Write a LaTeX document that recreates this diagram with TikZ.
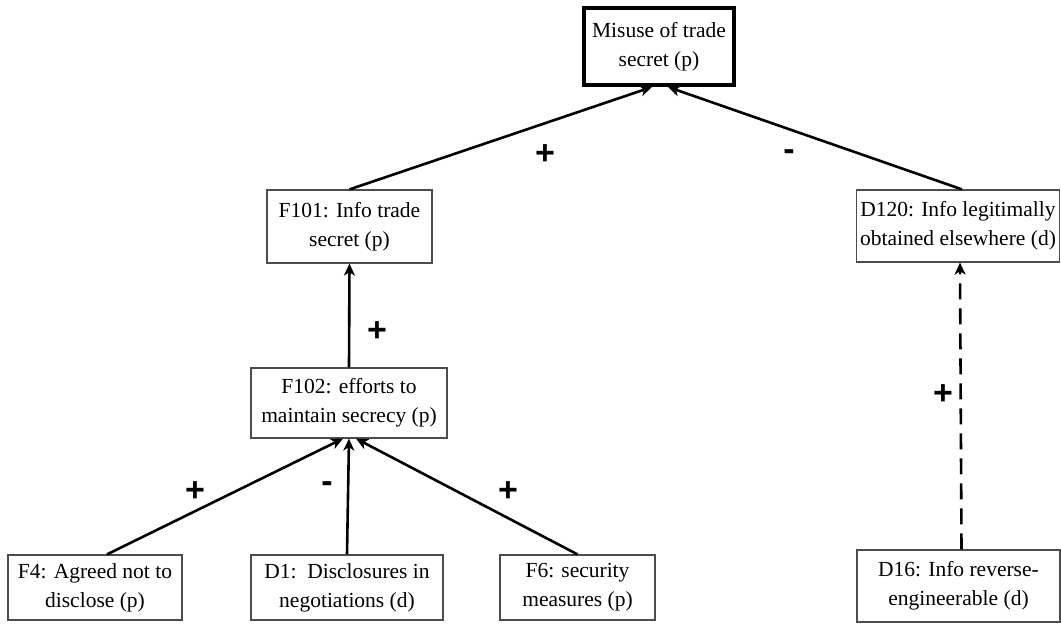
\documentclass[tikz,border=0pt]{standalone}
\usepackage{fontspec}
\setmainfont{Liberation Serif}
\newfontfamily\lblfont{Liberation Sans}
\usetikzlibrary{arrows.meta}
\begin{document}
\begin{tikzpicture}[x=1pt,y=-1pt,
  box/.style={draw=black!70, line width=1.2pt, fill=white, align=center, inner sep=0pt,
    font=\fontsize{21.5}{29}\selectfont},
  topbox/.style={box, draw=black, line width=4pt},
  conn/.style={line width=2.6pt, -{Stealth[length=12pt,width=11pt,inset=3.5pt]}},
  dconn/.style={conn, dash pattern=on 16pt off 9pt},
  lbl/.style={font=\lblfont\bfseries\fontsize{34}{34}\selectfont, inner sep=0pt}]
\useasboundingbox (0,0) rectangle (1061,627);

\node[topbox, minimum width=150pt, minimum height=77pt] (top) at (659,46.5) {Misuse of trade\\secret (p)};
\node[box, minimum width=165pt, minimum height=73pt] (f101) at (349.5,226.5) {F101: Info trade\\secret (p)};
\node[box, minimum width=203pt, minimum height=72pt] (d120) at (958,226) {D120: Info legitimally\\obtained elsewhere (d)};
\node[box, minimum width=196pt, minimum height=70pt] (f102) at (349,403) {F102: efforts to\\maintain secrecy (p)};
\node[box, minimum width=174pt, minimum height=65pt] (f4) at (95,587.5) {F4: Agreed not to\\disclose (p)};
\node[box, minimum width=192pt, minimum height=65pt] (d1) at (347,587.5) {D1:\ \ Disclosures in\\negotiations (d)};
\node[box, minimum width=155pt, minimum height=65pt] (f6) at (577.5,587.5) {F6: security\\measures (p)};
\node[box, minimum width=203pt, minimum height=72pt] (d16) at (958.5,586) {D16: Info reverse-\\engineerable (d)};

\draw[conn] (f101.north) -- ([xshift=-7pt]top.south);
\draw[conn] ([xshift=4pt]d120.north) -- ([xshift=9pt]top.south);
\draw[conn] (f102.north) -- (f101.south);
\draw[conn] ([xshift=12pt]f4.north) -- ([xshift=-6pt]f102.south);
\draw[conn] (d1.north) -- (f102.south);
\draw[conn] (f6.north) -- ([xshift=7pt]f102.south);
\draw[dconn] ([xshift=3pt]d16.north) -- ([xshift=2pt]d120.south);

\node[lbl] (l1) at (545,155) {+};
\node[lbl] (l2) at (789,155) {-};
\node[lbl] (l3) at (377,332) {+};
\node[lbl] (l4) at (195,492) {+};
\node[lbl] (l5) at (327,487) {-};
\node[lbl] (l6) at (508,492) {+};
\node[lbl] (l7) at (943,395) {+};
\end{tikzpicture}
\end{document}
